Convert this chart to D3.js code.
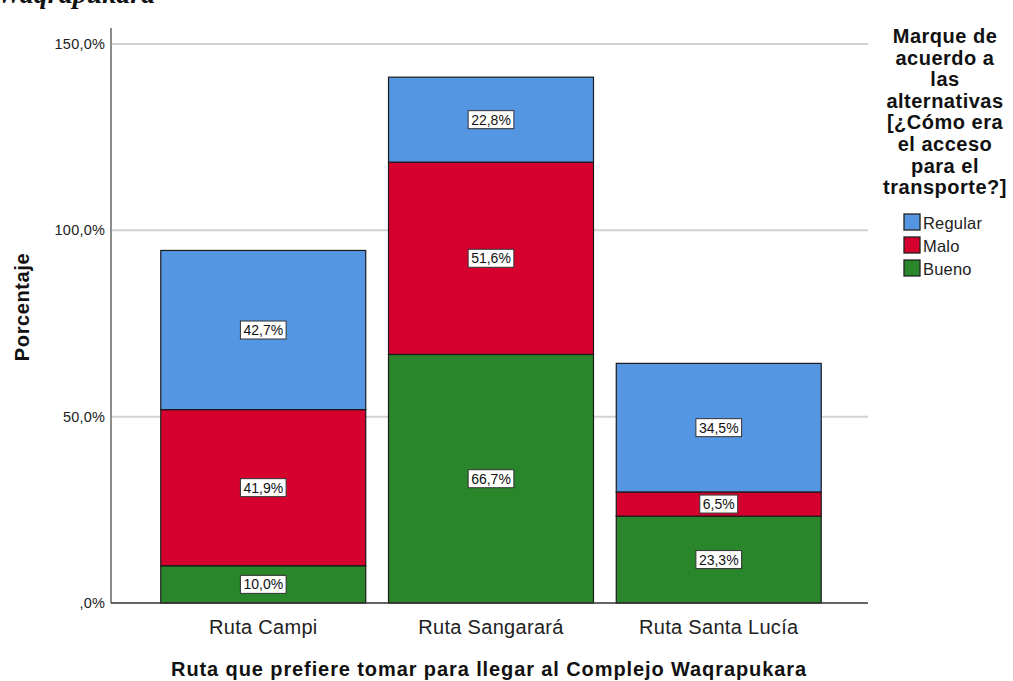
<!DOCTYPE html>
<html>
<head>
<meta charset="utf-8">
<title>Ruta Waqrapukara</title>
<script src="https://d3js.org/d3.v7.min.js"></script>
<style>
  body { margin: 0; background: #fff; }
  text { font-family: Arial, 'Liberation Sans', sans-serif; }
</style>
</head>
<body>
<script>
// data
const routes = ["Ruta Campi", "Ruta Sangarará", "Ruta Santa Lucía"];
const levels = ["Bueno", "Malo", "Regular"];          // stack order, bottom up
const bueno = [10.0, 66.7, 23.3];
const malo = [41.9, 51.6, 6.5];
const regular = [42.7, 22.8, 34.5];
const yTicks = [0, 50, 100, 150];
const legendTitle = ["Marque de", "acuerdo a", "las", "alternativas", "[¿Cómo era", "el acceso", "para el", "transporte?]"];
const colors = { Regular: "#5596e3", Malo: "#d6002f", Bueno: "#29862a" };

const W = 1013, H = 681;
const svg = d3.select("body").append("svg").attr("width", W).attr("height", H);

const pLeft = 111, pRight = 868, pTop = 28, pBottom = 603;

const pct = v => (v === 0 ? ",0" : d3.format(".1f")(v).replace(".", ",")) + "%";

const rows = routes.map((r, i) => ({ route: r, Bueno: bueno[i], Malo: malo[i], Regular: regular[i] }));
const stacked = d3.stack().keys(levels)(rows);

const x = d3.scaleBand().domain(routes).range([pLeft + 27, pRight - 24]).paddingInner(0.1).paddingOuter(0.1);
const y = d3.scaleLinear().domain([0, 150]).range([pBottom, 44]);

// partial caption at top (cut off by the crop, as in the source image)
svg.append("text").attr("x", -3).attr("y", 3)
  .style("font-family", "'Liberation Serif', 'DejaVu Serif', serif")
  .style("font-style", "italic").style("font-weight", "bold").style("font-size", "28px").attr("fill", "#111")
  .text("Waqrapukara");

// gridlines
svg.append("g").selectAll("line").data(yTicks.filter(d => d > 0)).join("line")
  .attr("x1", pLeft).attr("x2", pRight)
  .attr("y1", d => y(d)).attr("y2", d => y(d))
  .attr("stroke", "#d2d2d2").attr("stroke-width", 2);

// y axis
const yAxis = d3.axisLeft(y).tickValues(yTicks).tickSize(0).tickPadding(6).tickFormat(pct);
const yg = svg.append("g").attr("transform", `translate(${pLeft},0)`).call(yAxis);
yg.select(".domain").remove();
yg.selectAll("text").attr("font-size", 14.5).attr("letter-spacing", 0.2).attr("fill", "#222")
  .attr("font-family", "Arial, 'Liberation Sans', sans-serif");

svg.append("line").attr("x1", pLeft).attr("x2", pLeft).attr("y1", pTop).attr("y2", pBottom)
  .attr("stroke", "#8c8c8c").attr("stroke-width", 2);

// bars
const layer = svg.append("g").selectAll("g").data(stacked).join("g")
  .attr("fill", d => colors[d.key]);
layer.selectAll("rect").data(d => d).join("rect")
  .attr("x", d => x(d.data.route))
  .attr("width", x.bandwidth())
  .attr("y", d => y(d[1]))
  .attr("height", d => y(d[0]) - y(d[1]))
  .attr("stroke", "#1a1a1a").attr("stroke-width", 1.2);

// x axis line
svg.append("line").attr("x1", pLeft).attr("x2", pRight).attr("y1", pBottom).attr("y2", pBottom)
  .attr("stroke", "#333").attr("stroke-width", 1.5);

// value labels
const labels = [];
stacked.forEach(s => s.forEach(d => labels.push({ v: d[1] - d[0], route: d.data.route, mid: (d[0] + d[1]) / 2 })));
const lg = svg.append("g").selectAll("g").data(labels).join("g")
  .attr("transform", d => `translate(${x(d.route) + x.bandwidth() / 2},${y(d.mid)})`);
lg.append("text")
  .attr("text-anchor", "middle").attr("dy", "0.36em").attr("font-size", 14).attr("fill", "#111")
  .text(d => pct(d.v));
lg.each(function () {
  const g = d3.select(this);
  const b = g.select("text").node().getBBox();
  g.insert("rect", "text")
    .attr("x", b.x - 3).attr("y", -9).attr("width", b.width + 6).attr("height", 18)
    .attr("fill", "#fff").attr("stroke", "#333").attr("stroke-width", 1);
});

// category labels
const xAxis = d3.axisBottom(x).tickSize(0).tickPadding(17);
const xg = svg.append("g").attr("transform", `translate(0,${pBottom})`).call(xAxis);
xg.select(".domain").remove();
xg.selectAll("text").attr("font-size", 20).attr("letter-spacing", 0.3).attr("fill", "#222")
  .attr("font-family", "Arial, 'Liberation Sans', sans-serif");

// axis titles
svg.append("text").attr("x", 489).attr("y", 676).attr("text-anchor", "middle")
  .attr("font-size", 20).attr("letter-spacing", 0.9).attr("font-weight", "bold").attr("fill", "#111")
  .text("Ruta que prefiere tomar para llegar al Complejo Waqrapukara");
svg.append("text").attr("transform", `translate(29,307) rotate(-90)`)
  .attr("text-anchor", "middle")
  .attr("font-size", 20).attr("letter-spacing", 0.6).attr("font-weight", "bold").attr("fill", "#111")
  .text("Porcentaje");

// legend
const legend = svg.append("g");
legend.selectAll("text.t").data(legendTitle).join("text").attr("class", "t")
  .attr("x", 945).attr("y", (d, i) => 43 + i * 21.6).attr("text-anchor", "middle")
  .attr("font-size", 20).attr("letter-spacing", 0.5).attr("font-weight", "bold").attr("fill", "#111")
  .text(d => d);
const items = legend.selectAll("g.it").data(levels.slice().reverse()).join("g").attr("class", "it")
  .attr("transform", (d, i) => `translate(904,${214 + i * 23})`);
items.append("rect").attr("width", 16).attr("height", 16)
  .attr("fill", d => colors[d]).attr("stroke", "#222").attr("stroke-width", 1.3);
items.append("text").attr("x", 19).attr("y", 15).attr("font-size", 16.5).attr("letter-spacing", 0.2).attr("fill", "#222")
  .text(d => d);
</script>
</body>
</html>
